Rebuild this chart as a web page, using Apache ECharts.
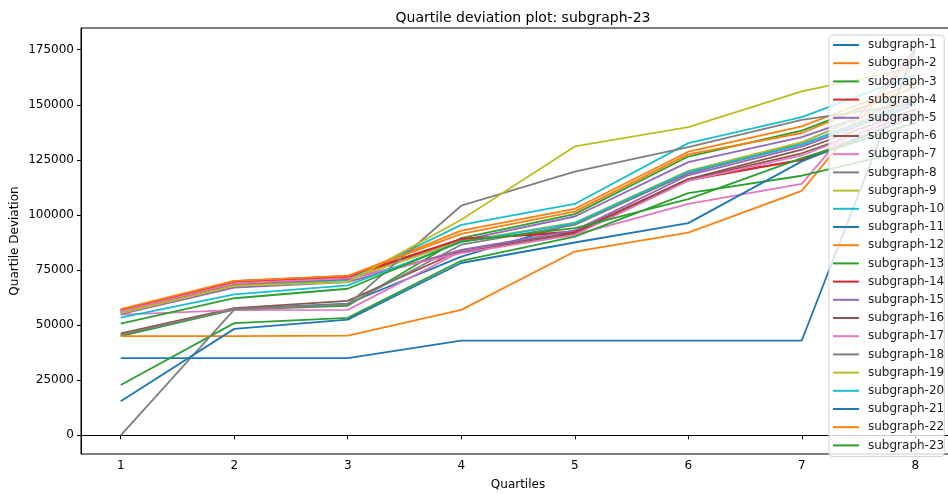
<!DOCTYPE html>
<html>
<head>
<meta charset="utf-8">
<script src="https://cdn.jsdelivr.net/npm/echarts@6/dist/echarts.min.js"></script>
<style>
  html, body { margin: 0; padding: 0; background: #fff; }
  #chart { width: 948px; height: 494px; }
</style>
</head>
<body>
<div id="chart"></div>
<script>
// quartile positions on the x axis
var quartiles = [1, 2, 3, 4, 5, 6, 7, 8];
var yTicks = [0, 25000, 50000, 75000, 100000, 125000, 150000, 175000];

// values, one array per subgraph
var sg1 = [45300, 57400, 59800, 81100, 96300, 118700, 132900, 155000];
var sg2 = [57000, 69800, 72000, 92900, 102800, 128700, 140200, 160000];
var sg3 = [45000, 57000, 58800, 89500, 100400, 126500, 138300, 158000];
var sg4 = [56500, 69500, 71500, 89000, 92500, 116300, 125000, 145000];
var sg5 = [55500, 68000, 70500, 88500, 99300, 124000, 135300, 153000];
var sg6 = [46300, 57700, 61000, 84000, 92000, 116300, 129600, 148000];
var sg7 = [54800, 56800, 56900, 83500, 91000, 105000, 114100, 175000];
var sg8 = [45700, 57300, 59500, 86500, 95500, 119000, 131900, 152000];
var sg9 = [55800, 68500, 70800, 88000, 96500, 120000, 133000, 155000];
var sg10 = [55200, 67500, 70500, 95500, 105000, 132600, 144400, 163600];
var sg11 = [35000, 35000, 35000, 43000, 43000, 43000, 43000, 175700];
var sg12 = [45000, 45000, 45200, 56900, 83400, 92000, 110900, 173500];
var sg13 = [22800, 50900, 53300, 79200, 90200, 109900, 117800, 130000];
var sg14 = [56800, 70000, 72300, 89200, 92000, 115700, 125000, 142000];
var sg15 = [55000, 67000, 69500, 84200, 93000, 118000, 131000, 150000];
var sg16 = [56000, 68700, 71000, 83000, 91500, 116000, 128000, 146000];
var sg17 = [56200, 69000, 71200, 82700, 91000, 115500, 127000, 147000];
var sg18 = [0, 57000, 59300, 104200, 119700, 130800, 143200, 150500];
var sg19 = [55500, 67800, 69500, 97800, 131100, 139900, 156100, 167000];
var sg20 = [53400, 64000, 68000, 87650, 96300, 119700, 132000, 150500];
var sg21 = [15400, 48300, 52500, 78200, 87500, 96300, 124300, 145000];
var sg22 = [57300, 70080, 72350, 91400, 101500, 127500, 137200, 158300];
var sg23 = [50700, 62200, 66500, 88000, 94000, 107200, 125800, 141700];

var allData = [sg1, sg2, sg3, sg4, sg5, sg6, sg7, sg8, sg9, sg10, sg11, sg12,
    sg13, sg14, sg15, sg16, sg17, sg18, sg19, sg20, sg21, sg22, sg23];

// matplotlib tab10
var colors = ['#1f77b4', '#ff7f0e', '#2ca02c', '#d62728', '#9467bd',
    '#8c564b', '#e377c2', '#7f7f7f', '#bcbd22', '#17becf'];

var font = 'DejaVu Sans';
var series = [];
for (var i = 0; i < allData.length; i++) {
    var pts = [];
    for (var j = 0; j < quartiles.length; j++) {
        pts.push([quartiles[j], allData[i][j]]);
    }
    series.push({
        name: 'subgraph-' + (i + 1),
        type: 'line',
        data: pts,
        showSymbol: false,
        symbol: 'none',
        lineStyle: { width: 1.8, color: colors[i % 10] },
        itemStyle: { color: colors[i % 10] }
    });
}

var myChart = echarts.init(document.getElementById('chart'));
myChart.setOption({
    animation: false,
    title: {
        text: 'Quartile deviation plot: subgraph-23',
        left: 518,
        textAlign: 'center',
        top: 6,
        textStyle: { fontFamily: font, fontSize: 14, fontWeight: 'normal', color: '#000' }
    },
    grid: {
        left: 81, right: -7, top: 28, bottom: 40,
        containLabel: false,
        outerBoundsMode: 'none',
        show: true, borderColor: '#000', borderWidth: 1, backgroundColor: 'transparent'
    },
    legend: {
        orient: 'vertical',
        left: 829,
        top: 35,
        padding: [3, 0, 4, 4],
        itemGap: 4.2,
        itemWidth: 26,
        itemHeight: 2,
        icon: 'rect',
        backgroundColor: 'rgba(255,255,255,0.8)',
        borderColor: '#d0d0d0',
        borderWidth: 1,
        borderRadius: 3,
        textStyle: { fontFamily: font, fontSize: 12, color: '#222', lineHeight: 14, padding: [0, 0, 0, 4] }
    },
    xAxis: {
        type: 'value',
        min: 0.65,
        max: 8.35,
        name: 'Quartiles',
        nameLocation: 'middle',
        nameGap: 25,
        nameTextStyle: { fontFamily: font, fontSize: 12, color: '#000' },
        axisLine: { lineStyle: { color: '#000', width: 1 } },
        axisTick: { length: 4, customValues: quartiles, lineStyle: { color: '#000' } },
        axisLabel: { customValues: quartiles, margin: 6, fontFamily: font, fontSize: 12, color: '#000' },
        splitLine: { show: false }
    },
    yAxis: {
        type: 'value',
        min: -8490,
        max: 184850,
        name: 'Quartile Deviation',
        nameLocation: 'middle',
        nameGap: 60,
        nameMoveOverlap: false,
        nameTextStyle: { fontFamily: font, fontSize: 12, color: '#000' },
        axisLine: { show: true, lineStyle: { color: '#000', width: 1 } },
        axisTick: { show: true, length: 4, customValues: yTicks, lineStyle: { color: '#000' } },
        axisLabel: {
            customValues: yTicks, margin: 7, fontFamily: font, fontSize: 12, color: '#000',
            formatter: function (v) { return String(v); }
        },
        splitLine: { show: false }
    },
    series: series
});
</script>
</body>
</html>
